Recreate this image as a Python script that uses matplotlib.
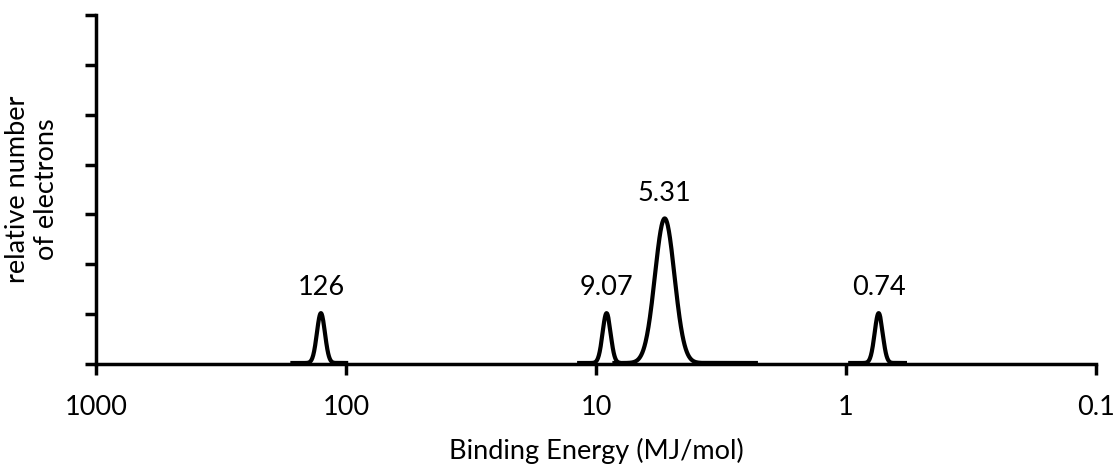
import matplotlib.pyplot as plt
import numpy as np

plt.rcParams['font.family'] = ['Lato', 'DejaVu Sans']

# peaks
peak_energy = [126, 9.07, 5.31, 0.74]
peak_height = [1.0, 1.0, 2.9, 1.0]
peak_labels = ['126', '9.07', '5.31', '0.74']
# peak width (sigma, in decades of energy)
peak_sigma = [0.016, 0.016, 0.039, 0.016]
# energy range over which each peak trace is drawn
trace_hi = [167, 11.9, 8.6, 0.98]
trace_lo = [98, 8.0, 2.25, 0.57]

xticks = [1000, 100, 10, 1, 0.1]
xtick_labels = ['1000', '100', '10', '1', '0.1']

FS = 19.5


def create_pes_plot():
    fig = plt.figure(figsize=(11.14, 4.65), dpi=100)
    ax = fig.add_axes([0.0862, 0.2172, 0.8976, 0.7505])

    for e, h, s, hi, lo, lab in zip(peak_energy, peak_height, peak_sigma,
                                    trace_hi, trace_lo, peak_labels):
        lx = np.linspace(np.log10(lo), np.log10(hi), 400)
        y = h * np.exp(-0.5 * ((lx - np.log10(e)) / s) ** 2)
        ax.plot(10 ** lx, y + 0.02, color='black', lw=3.0, solid_capstyle='butt',
                clip_on=False)
        ax.annotate(lab, xy=(e, h), xytext=(0, 10), textcoords='offset points',
                    ha='center', va='bottom', fontsize=FS)

    ax.set_xscale('log')
    ax.set_xlim(1000, 0.1)
    ax.set_ylim(0, 7)
    ax.set_xticks(xticks)
    ax.set_xticklabels(xtick_labels, fontsize=FS)
    ax.xaxis.set_minor_locator(plt.NullLocator())
    ax.set_yticks(np.arange(0, 8))
    ax.set_yticklabels([])
    ax.tick_params(axis='both', direction='out', length=8, width=2.5, color='black')
    ax.tick_params(axis='x', pad=14)

    for side in ['top', 'right']:
        ax.spines[side].set_visible(False)
    for side in ['left', 'bottom']:
        ax.spines[side].set_linewidth(2.5)

    ax.set_xlabel('Binding Energy (MJ/mol)', fontsize=FS, labelpad=13)
    ax.set_ylabel('relative number\nof electrons', fontsize=FS, labelpad=15,
                  linespacing=1.2)

    plt.savefig('out.png', dpi=100)
    plt.close()


if __name__ == "__main__":
    create_pes_plot()
